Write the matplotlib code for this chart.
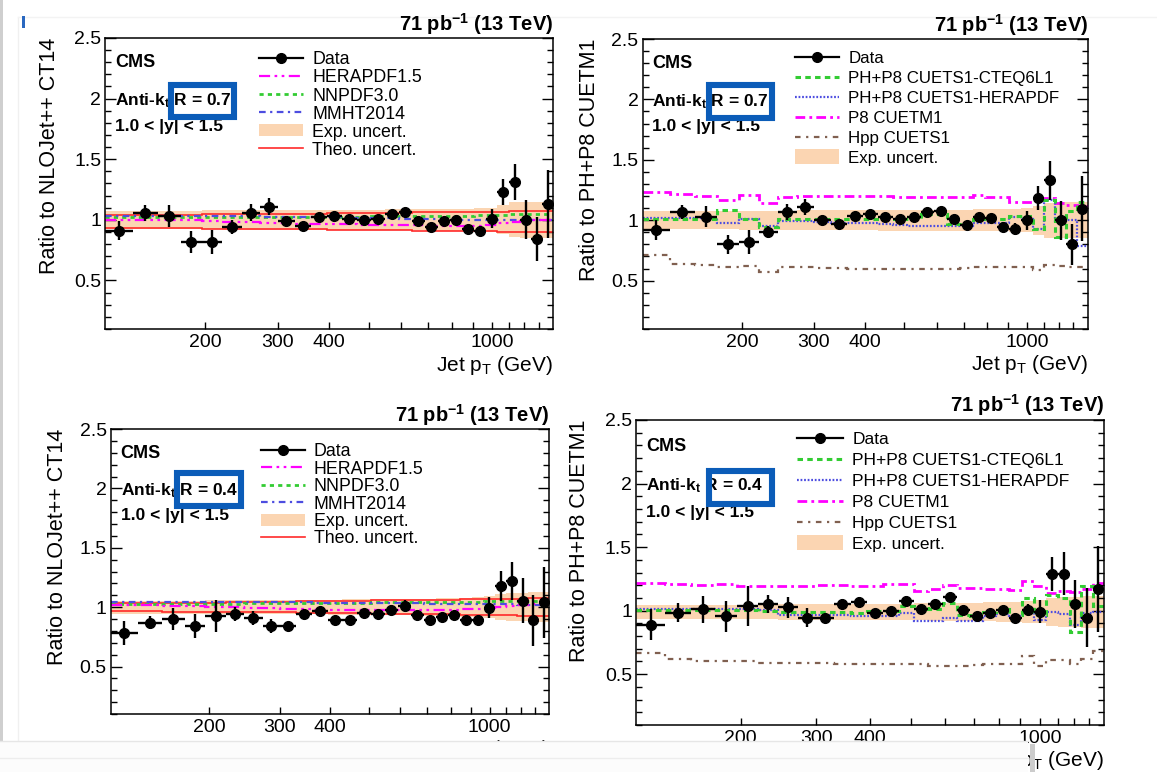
import numpy as np
import matplotlib
matplotlib.use("Agg")
import matplotlib.pyplot as plt
from matplotlib.lines import Line2D
from matplotlib.patches import Rectangle
from matplotlib.ticker import FixedLocator, FixedFormatter, MultipleLocator, NullFormatter, FuncFormatter

plt.rcParams['font.family'] = ['Liberation Sans', 'DejaVu Sans']
plt.rcParams['mathtext.fontset'] = 'custom'
plt.rcParams['mathtext.rm'] = 'Liberation Sans'
plt.rcParams['mathtext.bf'] = 'Liberation Sans:bold'
plt.rcParams['mathtext.it'] = 'Liberation Sans:italic'

# ---------------- data ----------------
edges = [114, 133, 153, 174, 196, 220, 245, 272, 300, 330, 362, 395, 430, 468, 507, 548,
         592, 638, 686, 737, 790, 846, 905, 967, 1032, 1101, 1172, 1248, 1327, 1410]
xticks_lab = [200, 300, 400, 1000]
xticks_minor = [500, 600, 700, 800, 900, 1100, 1200, 1300]

# R = 0.7, ratio to NLOJet++ CT14
data07_nlo = [0.91, 1.055, 1.035, 0.82, 0.82, 0.94, 1.06, 1.11, 0.99, 0.95, 1.02, 1.035, 1.01, 1.00, 1.005,
              1.045, 1.063, 0.99, 0.945, 0.99, 1.0, 0.925, 0.91, 1.01, 1.23, 1.31, 1.00, 0.84, 1.13]
err07_nlo = [0.08, 0.065, 0.09, 0.09, 0.10, 0.06, 0.07, 0.07, 0.025, 0.025, 0.03, 0.03, 0.025, 0.025, 0.025,
             0.03, 0.03, 0.025, 0.025, 0.03, 0.03, 0.035, 0.04, 0.08, 0.11, 0.15, 0.16, 0.18, 0.28]
hera07 = [1.0, 1.0, 0.998, 0.995, 0.99, 0.985, 0.98, 0.975, 0.972, 0.97, 0.968, 0.965, 0.962, 0.96, 0.958,
          0.956, 0.955, 0.954, 0.953, 0.952, 0.95, 0.95, 0.95, 0.96, 0.975, 0.985, 0.99, 0.995, 1.0]
nnpdf07 = [1.02, 1.02, 1.02, 1.02, 1.02, 1.02, 1.022, 1.022, 1.024, 1.024, 1.025, 1.025, 1.026, 1.027, 1.028,
           1.029, 1.03, 1.031, 1.032, 1.033, 1.035, 1.036, 1.038, 1.04, 1.042, 1.045, 1.047, 1.05, 1.05]
mmht07 = [1.035, 1.035, 1.034, 1.033, 1.032, 1.03, 1.028, 1.027, 1.026, 1.024, 1.022, 1.02, 1.018, 1.016, 1.014,
          1.012, 1.01, 1.008, 1.006, 1.004, 1.002, 1.0, 1.0, 1.0, 1.0, 1.0, 1.0, 1.0, 1.0]
theo_hi07 = [1.041, 1.042, 1.043, 1.044, 1.045, 1.046, 1.048, 1.049, 1.05, 1.051, 1.052, 1.054, 1.055, 1.056, 1.057,
             1.058, 1.06, 1.061, 1.062, 1.063, 1.064, 1.065, 1.066, 1.067, 1.068, 1.07, 1.072, 1.074, 1.076]
theo_lo07 = [0.932, 0.931, 0.93, 0.929, 0.928, 0.927, 0.926, 0.925, 0.923, 0.922, 0.921, 0.92, 0.919, 0.918, 0.916,
             0.915, 0.914, 0.912, 0.911, 0.91, 0.908, 0.907, 0.906, 0.905, 0.904, 0.903, 0.902, 0.901, 0.90]
band07 = [0.075, 0.075, 0.075, 0.075, 0.078, 0.08, 0.08, 0.082, 0.082, 0.083, 0.083, 0.084, 0.085, 0.085, 0.085,
          0.086, 0.086, 0.087, 0.088, 0.09, 0.09, 0.092, 0.095, 0.10, 0.12, 0.145, 0.15, 0.15, 0.15]

# R = 0.7, ratio to PH+P8 CUETM1
data07_mc = [0.92, 1.07, 1.03, 0.80, 0.82, 0.90, 1.07, 1.11, 1.00, 0.97, 1.036, 1.05, 1.03, 1.008, 1.025,
             1.07, 1.077, 1.008, 0.964, 1.025, 1.017, 0.948, 0.926, 1.00, 1.187, 1.33, 1.00, 0.80, 1.097]
err07_mc = [0.08, 0.06, 0.085, 0.08, 0.10, 0.05, 0.065, 0.065, 0.025, 0.025, 0.03, 0.03, 0.025, 0.025, 0.025,
            0.03, 0.03, 0.025, 0.025, 0.03, 0.03, 0.035, 0.05, 0.08, 0.10, 0.16, 0.16, 0.17, 0.27]
cteq07 = [1.01, 1.01, 1.01, 1.085, 1.01, 0.945, 1.01, 1.01, 1.01, 1.01, 1.01, 1.01, 1.01, 1.01, 1.01,
          1.05, 1.05, 0.97, 0.97, 1.01, 1.01, 1.01, 1.035, 1.035, 0.93, 1.17, 0.86, 1.08, 1.15]
herapdf07 = [1.02, 1.02, 1.02, 0.975, 1.01, 0.955, 0.995, 0.99, 0.985, 0.98, 0.975, 0.975, 0.97, 0.96, 0.955,
             0.955, 0.955, 0.955, 0.955, 0.98, 0.98, 0.975, 1.03, 1.01, 0.93, 1.17, 0.99, 1.0, 0.79]
p8_07 = [1.23, 1.215, 1.20, 1.17, 1.21, 1.145, 1.195, 1.20, 1.20, 1.20, 1.20, 1.20, 1.20, 1.195, 1.19,
         1.19, 1.19, 1.19, 1.195, 1.21, 1.19, 1.19, 1.15, 1.15, 1.17, 1.18, 1.14, 1.13, 1.12]
hpp07 = [0.71, 0.635, 0.63, 0.615, 0.62, 0.575, 0.61, 0.61, 0.605, 0.605, 0.6, 0.6, 0.6, 0.595, 0.595,
         0.595, 0.6, 0.6, 0.605, 0.61, 0.61, 0.61, 0.61, 0.61, 0.59, 0.63, 0.625, 0.615, 0.615]

# R = 0.4, ratio to NLOJet++ CT14
data04_nlo = [0.78, 0.87, 0.90, 0.84, 0.925, 0.945, 0.91, 0.84, 0.84, 0.945, 0.965, 0.89, 0.89, 0.95, 0.945,
              0.98, 1.01, 0.935, 0.89, 0.915, 0.935, 0.89, 0.89, 0.995, 1.18, 1.22, 1.055, 0.89, 1.04]
err04_nlo = [0.10, 0.055, 0.095, 0.10, 0.135, 0.06, 0.06, 0.06, 0.02, 0.03, 0.03, 0.03, 0.02, 0.035, 0.025,
             0.035, 0.05, 0.025, 0.025, 0.03, 0.035, 0.035, 0.04, 0.09, 0.125, 0.16, 0.19, 0.215, 0.30]
hera04 = [1.015, 1.014, 1.012, 1.01, 1.005, 1.0, 0.995, 0.99, 0.985, 0.982, 0.98, 0.978, 0.976, 0.975, 0.975,
          0.975, 0.975, 0.975, 0.976, 0.978, 0.98, 0.982, 0.985, 0.99, 1.0, 1.01, 1.02, 1.025, 1.03]
nnpdf04 = [1.03, 1.03, 1.03, 1.03, 1.03, 1.03, 1.031, 1.032, 1.033, 1.034, 1.035, 1.036, 1.037, 1.038, 1.039,
           1.04, 1.041, 1.042, 1.043, 1.044, 1.045, 1.046, 1.047, 1.048, 1.05, 1.052, 1.054, 1.055, 1.055]
mmht04 = [1.047, 1.047, 1.046, 1.045, 1.044, 1.043, 1.042, 1.041, 1.04, 1.039, 1.038, 1.037, 1.036, 1.035, 1.034,
          1.033, 1.032, 1.031, 1.03, 1.029, 1.028, 1.027, 1.026, 1.025, 1.024, 1.023, 1.022, 1.021, 1.02]
theo_hi04 = [1.033, 1.034, 1.035, 1.036, 1.038, 1.04, 1.042, 1.044, 1.046, 1.048, 1.05, 1.052, 1.054, 1.055, 1.056,
             1.058, 1.06, 1.061, 1.062, 1.063, 1.064, 1.065, 1.066, 1.068, 1.07, 1.071, 1.072, 1.074, 1.075]
theo_lo04 = [0.965, 0.964, 0.963, 0.962, 0.961, 0.96, 0.958, 0.956, 0.955, 0.953, 0.952, 0.95, 0.949, 0.948, 0.946,
             0.945, 0.944, 0.942, 0.941, 0.94, 0.939, 0.937, 0.936, 0.934, 0.932, 0.93, 0.928, 0.926, 0.925]
band04 = [0.055, 0.055, 0.055, 0.055, 0.058, 0.058, 0.06, 0.06, 0.06, 0.062, 0.062, 0.064, 0.065, 0.066, 0.067,
          0.068, 0.07, 0.07, 0.072, 0.074, 0.076, 0.08, 0.085, 0.09, 0.11, 0.12, 0.12, 0.125, 0.125]

# R = 0.4, ratio to PH+P8 CUETM1
data04_mc = [0.89, 0.985, 1.01, 0.955, 1.035, 1.05, 1.025, 0.945, 0.945, 1.05, 1.065, 0.985, 0.995, 1.075, 1.015,
             1.05, 1.11, 1.005, 0.96, 0.985, 1.005, 0.945, 1.005, 0.99, 1.29, 1.29, 1.05, 0.945, 1.17]
err04_mc = [0.12, 0.075, 0.105, 0.12, 0.155, 0.07, 0.08, 0.075, 0.02, 0.04, 0.04, 0.03, 0.025, 0.04, 0.03,
            0.04, 0.04, 0.03, 0.025, 0.03, 0.035, 0.04, 0.05, 0.09, 0.135, 0.17, 0.19, 0.235, 0.34]
cteq04 = [1.005, 1.005, 1.005, 1.005, 1.005, 1.0, 0.99, 0.99, 0.99, 0.99, 0.98, 0.995, 0.995, 1.035, 1.02,
          1.01, 1.06, 0.965, 0.96, 0.99, 1.01, 0.965, 1.10, 0.965, 1.12, 1.10, 0.835, 1.19, 1.035]
herapdf04 = [1.01, 1.01, 1.01, 1.01, 1.01, 1.005, 0.965, 0.965, 0.965, 0.965, 0.96, 0.96, 0.96, 0.985, 0.915,
             0.915, 0.94, 0.92, 0.92, 0.955, 0.975, 0.955, 0.985, 0.925, 0.99, 0.97, 0.89, 0.98, 0.99]
p8_04 = [1.22, 1.21, 1.20, 1.21, 1.19, 1.195, 1.195, 1.195, 1.20, 1.20, 1.19, 1.19, 1.21, 1.21, 1.155,
         1.17, 1.20, 1.18, 1.18, 1.17, 1.17, 1.16, 1.235, 1.195, 1.135, 1.155, 1.15, 1.17, 1.215]
hpp04 = [0.67, 0.62, 0.605, 0.605, 0.605, 0.59, 0.59, 0.59, 0.59, 0.58, 0.58, 0.58, 0.58, 0.58, 0.58,
         0.565, 0.565, 0.565, 0.575, 0.58, 0.58, 0.58, 0.64, 0.565, 0.61, 0.61, 0.58, 0.62, 0.68]

# ---------------- style ----------------
W, H = 1157, 772
BAND = '#fbd5b2'
MAG = '#ff00ff'
GRN = '#33cc33'
BLU = '#4d4de0'
BRN = '#806050'
RED = '#ff2a2a'
BOX = '#0b5cb8'

fig = plt.figure(figsize=(W / 100, H / 100), dpi=100)
fig.patch.set_facecolor('white')

e = np.array(edges, dtype=float)
centers = np.sqrt(e[:-1] * e[1:])
xerr = [centers - e[:-1], e[1:] - centers]


def make_axes(l, t, r, b):
    return fig.add_axes([l / W, 1 - b / H, (r - l) / W, (b - t) / H])


def style_axes(ax):
    ax.set_xscale('log')
    ax.set_xlim(edges[0], edges[-1])
    ax.set_ylim(0.1, 2.5)
    ax.xaxis.set_major_locator(FixedLocator(xticks_lab))
    ax.xaxis.set_major_formatter(FixedFormatter([str(v) for v in xticks_lab]))
    ax.xaxis.set_minor_locator(FixedLocator(xticks_minor))
    ax.xaxis.set_minor_formatter(NullFormatter())
    ax.yaxis.set_major_locator(MultipleLocator(0.5))
    ax.yaxis.set_minor_locator(MultipleLocator(0.1))
    ax.yaxis.set_major_formatter(FuncFormatter(lambda v, p: f'{v:g}'))
    ax.tick_params(which='both', direction='in', top=False, right=True, width=1.0, labelsize=14)
    ax.tick_params(which='major', axis='y', length=8, pad=3)
    ax.tick_params(which='minor', axis='y', length=4)
    ax.tick_params(which='major', axis='x', length=5, pad=3.5)
    ax.tick_params(which='minor', axis='x', length=5)
    for t in ax.xaxis.get_major_ticks():
        if abs(t.get_loc() - 1000) < 1:
            t.tick1line.set_markersize(9)
    for s in ax.spines.values():
        s.set_linewidth(1.1)


def draw_legend(ax, entries, y0, dy, hpx, boxh, fs):
    x0, x1, xt = 0.343, 0.442, 0.462
    off = 0.716 * fs * 100 / 72 / 2 / hpx
    for i, (label, kind, kw) in enumerate(entries):
        y = y0 - i * dy
        if kind == 'data':
            ax.add_line(Line2D([x0, x1], [y, y], transform=ax.transAxes, color='k', lw=1.6, clip_on=False))
            ax.add_line(Line2D([(x0 + x1) / 2], [y], transform=ax.transAxes, color='k', marker='o', ms=7,
                               lw=0, clip_on=False))
        elif kind == 'box':
            ax.add_patch(Rectangle((x0, y - boxh / hpx), x1 - x0, 2 * boxh / hpx, transform=ax.transAxes,
                                   facecolor=BAND, edgecolor='none', clip_on=False))
        else:
            ax.add_line(Line2D([x0, x1], [y, y], transform=ax.transAxes, clip_on=False, **kw))
        ax.text(xt, y - off, label, transform=ax.transAxes, fontsize=fs, va='baseline', ha='left')


def panel(rect, data, err, band, curves, ylabel, ylab_x, rlabel, boxr, legend_entries, leg_y0, leg_dy, boxh,
          xlab_y, leg_fs, band_center=1.0):
    l, t, r, b = rect
    ax = make_axes(l, t, r, b)
    hpx = b - t
    style_axes(ax)
    bw = np.array(band)
    ax.stairs(band_center + bw, edges, baseline=band_center - bw, fill=True, color=BAND, lw=0, zorder=1)
    for vals, kw in curves:
        ax.stairs(vals, edges, baseline=None, zorder=2, **kw)
    ax.errorbar(centers, data, yerr=err, xerr=xerr, fmt='o', color='k', ms=7, elinewidth=1.7, capsize=0,
                zorder=5)
    # texts
    ax.text(0.022, 0.899, 'CMS', transform=ax.transAxes, fontsize=13, fontweight='bold', va='baseline')
    ax.text(0.022, 0.769, r'Anti-k$_{\mathbf{t}}$ ' + rlabel, transform=ax.transAxes, fontsize=12.5,
            fontweight='bold', va='baseline')
    ax.text(0.022, 0.682, '1.0 < |y| < 1.5', transform=ax.transAxes, fontsize=12.5, fontweight='bold',
            va='baseline')
    ax.text(1.0, 1.026, r'71 pb$^{\mathbf{-1}}$ (13 TeV)', transform=ax.transAxes, fontsize=14.5,
            fontweight='bold', ha='right', va='baseline')
    ax.text(ylab_x, 1.0, ylabel, transform=ax.transAxes, rotation=90, fontsize=15.5, ha='center', va='top')
    ax.text(1.0, xlab_y, r'Jet p$_{\mathrm{T}}$ (GeV)', transform=ax.transAxes, fontsize=15, ha='right',
            va='baseline')
    bx0, bx1, by0, by1 = boxr
    ax.add_patch(Rectangle((bx0, by0), bx1 - bx0, by1 - by0, transform=ax.transAxes, fill=False,
                           edgecolor=BOX, lw=4.4, zorder=10, clip_on=False))
    draw_legend(ax, legend_entries, leg_y0, leg_dy, hpx, boxh, leg_fs)
    return ax


hera_kw = dict(color=MAG, lw=1.6, linestyle=(0, (5, 2, 1.2, 2, 1.2, 2)))
nnpdf_kw = dict(color=GRN, lw=2.0, linestyle=(0, (1.5, 1.5)))
mmht_kw = dict(color=BLU, lw=1.6, linestyle=(0, (3, 2, 1, 2)))
theo_kw = dict(color=RED, lw=1.2, linestyle='-')
cteq_kw = dict(color=GRN, lw=2.2, linestyle=(0, (1.8, 1.4)))
herapdf_kw = dict(color=BLU, lw=1.6, linestyle=(0, (0.8, 0.8)))
p8_kw = dict(color=MAG, lw=2.0, linestyle=(0, (3.5, 1.5, 1, 1.5)))
hpp_kw = dict(color=BRN, lw=1.6, linestyle=(0, (2.5, 2.5, 1, 2.5)))

nlo_legend = [('Data', 'data', None), ('HERAPDF1.5', 'line', hera_kw), ('NNPDF3.0', 'line', nnpdf_kw),
              ('MMHT2014', 'line', mmht_kw), ('Exp. uncert.', 'box', None), ('Theo. uncert.', 'line', theo_kw)]
mc_legend = [('Data', 'data', None), ('PH+P8 CUETS1-CTEQ6L1', 'line', cteq_kw),
             ('PH+P8 CUETS1-HERAPDF', 'line', herapdf_kw), ('P8 CUETM1', 'line', p8_kw),
             ('Hpp CUETS1', 'line', hpp_kw), ('Exp. uncert.', 'box', None)]

# top-left
panel((105.4, 38, 553, 329), data07_nlo, err07_nlo, band07,
      [(theo_hi07, theo_kw), (theo_lo07, theo_kw), (nnpdf07, nnpdf_kw), (mmht07, mmht_kw), (hera07, hera_kw)],
      'Ratio to NLOJet++ CT14', -0.124, 'R = 0.7', (0.146, 0.287, 0.728, 0.840),
      nlo_legend, 0.931, 0.062, 6, -0.143, 12.8)
# top-right
panel((642.6, 39, 1087.8, 329), data07_mc, err07_mc, band07,
      [(hpp07, hpp_kw), (p8_07, p8_kw), (herapdf07, herapdf_kw), (cteq07, cteq_kw)],
      'Ratio to PH+P8 CUETM1', -0.119, 'R = 0.7', (0.149, 0.290, 0.727, 0.840),
      mc_legend, 0.939, 0.069, 7.5, -0.141, 12.2)
# bottom-left
panel((111, 429, 549.4, 714), data04_nlo, err04_nlo, band04,
      [(theo_hi04, theo_kw), (theo_lo04, theo_kw), (nnpdf04, nnpdf_kw), (mmht04, mmht_kw), (hera04, hera_kw)],
      'Ratio to NLOJet++ CT14', -0.122, 'R = 0.4', (0.151, 0.296, 0.730, 0.846),
      nlo_legend, 0.926, 0.061, 6, -0.145, 12.8)
# bottom-right
panel((636.2, 420, 1104, 725), data04_mc, err04_mc, band04,
      [(hpp04, hpp_kw), (p8_04, p8_kw), (herapdf04, herapdf_kw), (cteq04, cteq_kw)],
      'Ratio to PH+P8 CUETM1', -0.122, 'R = 0.4', (0.156, 0.290, 0.725, 0.834),
      mc_legend, 0.942, 0.069, 7.5, -0.136, 12.5, band_center=0.99)


# ---------------- screenshot decorations ----------------
def fig_rect(x0, y0, x1, y1, **kw):
    fig.add_artist(Rectangle((x0 / W, 1 - y1 / H), (x1 - x0) / W, (y1 - y0) / H,
                             transform=fig.transFigure, **kw))


def fig_line(xs, ys, **kw):
    fig.add_artist(Line2D([x / W for x in xs], [1 - y / H for y in ys], transform=fig.transFigure, **kw))


fig_rect(0, 0, 3, H, facecolor='#cfcfcf', edgecolor='none', zorder=20)
fig_line([18, 18], [17, H], color='#f0f0f0', lw=1, zorder=-1)
fig_line([18, W], [17, 17], color='#f3f3f3', lw=1, zorder=-1)
fig_rect(22, 16, 25.5, 28, facecolor='#2a68c0', edgecolor='none', zorder=20)
# bottom overlay covering the lower x labels
fig_rect(0, 741, 1028, H, facecolor='#fcfcfc', edgecolor='none', zorder=30)
fig_line([0, 1028], [741, 741], color='#e6e6e6', lw=1, zorder=31)
fig_line([0, 1028], [758, 758], color='#ededed', lw=1, zorder=31)
fig_rect(1030, 744, 1035, H, facecolor='#cccccc', edgecolor='none', zorder=31)

fig.savefig('out.png', dpi=100, facecolor='white')
